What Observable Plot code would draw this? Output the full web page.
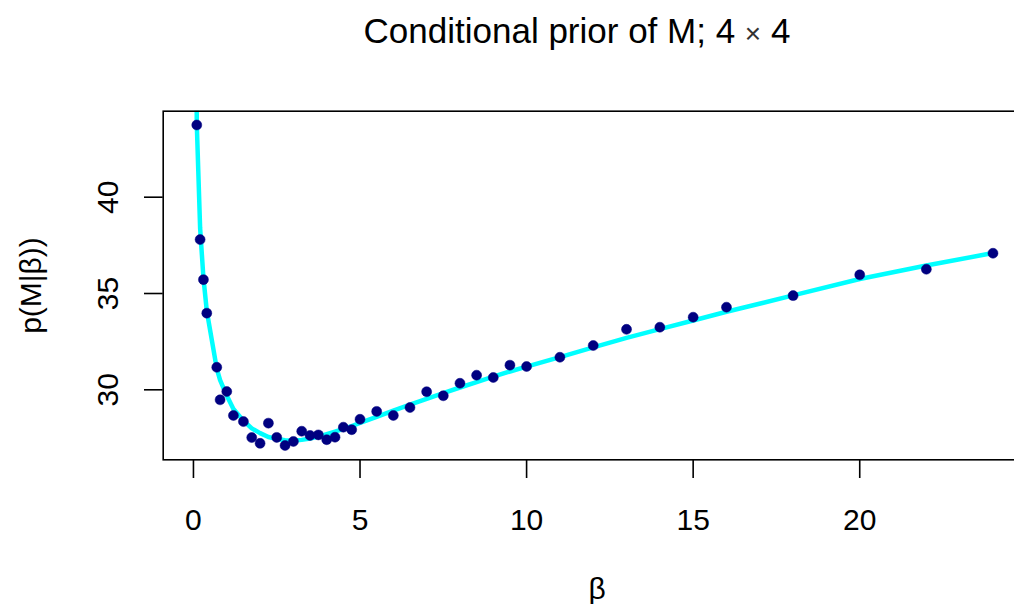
<!DOCTYPE html>
<html><head><meta charset="utf-8">
<script src="https://cdn.jsdelivr.net/npm/d3@7"></script>
<script src="https://cdn.jsdelivr.net/npm/@observablehq/plot@0.6"></script>
<style>
html,body{margin:0;padding:0;background:#fff;overflow:hidden;width:1014px;height:604px}
#wrap{position:relative;width:1014px;height:604px;overflow:hidden}
#title{position:absolute;left:0;top:13px;width:1154px;text-align:center;font:35px/35px "Liberation Sans",Arial,sans-serif;color:#000;white-space:nowrap}
#title .times{font-size:28px;color:#333}
#chart{position:absolute;left:0;top:80px;width:1040px;height:524px}
#chart svg{max-width:none !important;width:1040px;height:524px}
</style></head><body>
<div id="wrap"><div id="title">Conditional prior of M; 4 <span class="times">×</span> 4</div><div id="chart"></div></div>
<script>
// observed points
const betaPoints  = [0.1,0.2,0.3,0.4,0.7,0.8,1.0,1.2,1.5,1.75,2.0,2.25,2.5,2.75,3.0,3.25,3.5,3.75,4.0,4.25,4.5,4.75,5.0,5.5,6.0,6.5,7.0,7.5,8.0,8.5,9.0,9.5,10,11,12,13,14,15,16,18,20,22,24];
const priorPoints = [43.75,37.8,35.72,33.98,31.17,29.48,29.91,28.67,28.35,27.52,27.22,28.27,27.53,27.11,27.32,27.85,27.63,27.66,27.41,27.54,28.06,27.93,28.47,28.88,28.67,29.08,29.9,29.69,30.34,30.76,30.64,31.28,31.21,31.69,32.3,33.14,33.25,33.77,34.29,34.89,35.97,36.26,37.09];
// fitted curve
const betaCurve  = [0.05,0.1,0.2,0.3,0.4,0.7,0.8,1.0,1.2,1.5,1.75,2.0,2.25,2.5,2.75,3.0,3.25,3.5,3.75,4.0,4.25,4.5,4.75,5.0,5.5,6.0,6.5,7.0,7.5,8.0,8.5,9.0,9.5,10,11,12,13,14,15,16,18,20,22,24];
const priorCurve = [60,43.8,38.4,35.8,34.1,31.1,30.5,29.7,29.0,28.4,28.0,27.75,27.55,27.45,27.38,27.36,27.4,27.47,27.57,27.7,27.83,27.97,28.12,28.28,28.6,28.92,29.23,29.53,29.83,30.12,30.4,30.68,30.95,31.2,31.7,32.2,32.7,33.15,33.6,34.05,34.9,35.75,36.45,37.1];
const xTicks = [0,5,10,15,20];
const yTicks = [30,35,40];
const xLabel = "β";
const yLabel = "p(M|β))";

const points = betaPoints.map((b,i)=>({beta:b, p:priorPoints[i]}));
const curve = betaCurve.map((b,i)=>({beta:b, p:priorCurve[i]}));
const font = '"Liberation Sans", Arial, sans-serif';

const chart = Plot.plot({
  width: 1040, height: 524,
  marginLeft: 162.7, marginRight: 15.6, marginTop: 30.7, marginBottom: 144.7,
  style: {fontFamily: font, background: "white", color: "black", overflow: "visible", maxWidth: "none"},
  x: {domain: [-0.908, 24.958], axis: null},
  y: {domain: [26.366, 44.465], axis: null},
  marks: [
    Plot.line(curve, {x: "beta", y: "p", stroke: "#00FFFF", strokeWidth: 4.5, clip: true}),
    Plot.dot(points, {x: "beta", y: "p", r: 5, fill: "#000080", stroke: "#000080", strokeWidth: 0.5}),
    Plot.frame({stroke: "black", strokeWidth: 1.6}),
    Plot.axisX(xTicks, {anchor: "bottom", tickSize: 18.7, tickPadding: 30.2, fontSize: 30, strokeWidth: 1.6, label: null, fill: "black"}),
    Plot.axisY(yTicks, {anchor: "left", tickSize: 18.7, tickFormat: () => "", strokeWidth: 1.6, label: null}),
    Plot.text(yTicks, {y: d => d, text: d => String(d), frameAnchor: "left", dx: -45.4, rotate: -90, textAnchor: "middle", lineAnchor: "bottom", fontSize: 30, fill: "black"}),
    Plot.text([yLabel], {text: d => d, frameAnchor: "left", dx: -131.7, rotate: -90, textAnchor: "middle", lineAnchor: "middle", fontSize: 30, fill: "black"}),
    Plot.text([xLabel], {text: d => d, frameAnchor: "bottom", dx: 3, dy: 138.7, lineAnchor: "bottom", fontSize: 30, fill: "black"})
  ]
});
document.getElementById("chart").appendChild(chart);
</script>
</body></html>
